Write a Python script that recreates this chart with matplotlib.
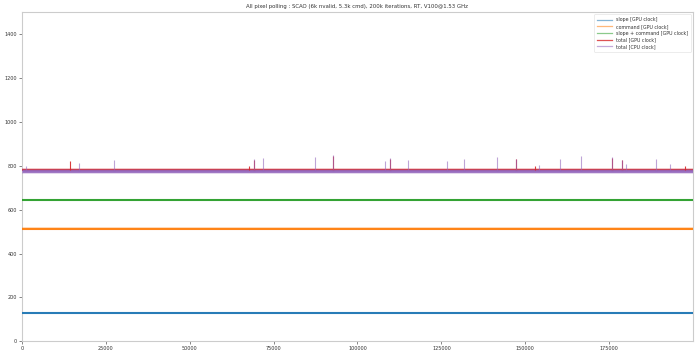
import matplotlib
matplotlib.use("Agg")
import matplotlib.pyplot as plt
from matplotlib.lines import Line2D

# ---- data ----
n_iterations = 200000
series_labels = ["slope [GPU clock]", "command [GPU clock]", "slope + command [GPU clock]",
                 "total [GPU clock]", "total [CPU clock]"]
series_colors = ["#1f77b4", "#ff7f0e", "#2ca02c", "#d62728", "#9467bd"]
# typical level and noise band (low, high) of each series
series_level = [128, 514, 643, 782, 774]
series_low = [123, 508, 638, 775, 763]
series_high = [134, 521, 649, 791, 785]

# occasional spikes of the total series (iteration, value)
gpu_total_spike_x = [14200, 67800, 69100, 92600, 109700, 147300, 153000, 176000, 178700, 197500]
gpu_total_spike_y = [822, 797, 828, 845, 833, 830, 797, 836, 826, 797]
cpu_total_spike_x = [1200, 17000, 27300, 69100, 71700, 87400, 92600, 108200, 109700, 115000,
                     126600, 131700, 141500, 147300, 154200, 160400, 166700, 176000, 178700,
                     180000, 189100, 193200]
cpu_total_spike_y = [799, 814, 825, 832, 835, 840, 847, 820, 835, 828,
                     820, 829, 838, 832, 802, 831, 843, 838, 828,
                     810, 831, 807]

title = "All pixel polling : SCAO (6k nvalid, 5.3k cmd), 200k iterations, RT, V100@1.53 GHz"
y_ticks = [0, 200, 400, 600, 800, 1000, 1200, 1400]
x_ticks = [0, 25000, 50000, 75000, 100000, 125000, 150000, 175000]

# ---- figure ----
fig = plt.figure(figsize=(7.0, 3.56), dpi=100)
ax = fig.add_axes([0.0314, 0.041, 0.9586, 0.925])

line_widths = [1.5, 1.5, 1.5, 1.4, 2.0]
for i in range(5):
    ax.fill_between([0, n_iterations - 1], [series_low[i]] * 2, [series_high[i]] * 2,
                    color=series_colors[i], alpha=0.25, lw=0, zorder=2 + i)
    ax.plot([0, n_iterations - 1], [series_level[i]] * 2, color=series_colors[i],
            lw=line_widths[i], alpha=0.95, zorder=3 + i, solid_capstyle="butt")

ax.vlines(gpu_total_spike_x, series_level[3], gpu_total_spike_y, color=series_colors[3],
          lw=0.8, alpha=0.9, zorder=8)
ax.vlines(cpu_total_spike_x, series_level[4], cpu_total_spike_y, color=series_colors[4],
          lw=0.8, alpha=0.6, zorder=9)

ax.set_xlim(0, n_iterations - 1)
ax.set_ylim(0, 1500)
ax.set_xticks(x_ticks)
ax.set_xticklabels([str(v) for v in x_ticks])
ax.set_yticks(y_ticks)
ax.set_yticklabels([str(v) for v in y_ticks])
ax.tick_params(labelsize=3.5, length=2, width=0.5, color="#555555", labelcolor="#333333", pad=1.5)
for s in ax.spines.values():
    s.set_color("#cccccc")
    s.set_linewidth(0.8)
ax.set_title(title, fontsize=3.9, color="#333333", pad=3)

handles = [Line2D([], [], color=c, lw=0.9, alpha=0.55 if k != 3 else 0.8)
           for k, c in enumerate(series_colors)]
leg = ax.legend(handles, series_labels, loc="upper right", fontsize=3.4, frameon=True,
                handlelength=3.2, borderpad=0.6, labelspacing=0.35, handletextpad=0.8)
leg.get_frame().set_edgecolor("#dddddd")
leg.get_frame().set_linewidth(0.5)
for t in leg.get_texts():
    t.set_color("#333333")

fig.savefig("out.png", dpi=100)
